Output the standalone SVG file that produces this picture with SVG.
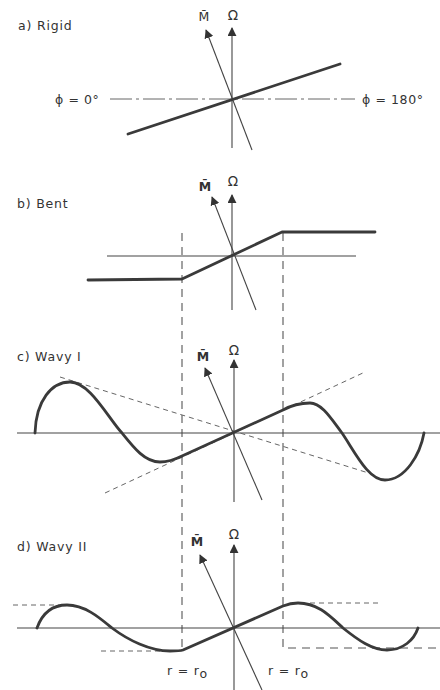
<svg xmlns="http://www.w3.org/2000/svg" width="440" height="690" viewBox="0 0 440 690">
<style>
text{font-family:"DejaVu Sans","Liberation Sans",sans-serif;fill:#333;}
.lab{font-size:12.5px;letter-spacing:0.8px;}
.phi{font-size:12.5px;letter-spacing:0.6px;}
.sym{font-size:13.5px;text-anchor:middle;}
.m{font-size:12.5px;text-anchor:middle;font-weight:bold;}
.thin{stroke:#444;stroke-width:1.1;fill:none;}
.thick{stroke:#3a3a3a;stroke-width:2.8;fill:none;stroke-linejoin:round;stroke-linecap:round;}
.dash{stroke:#555;stroke-width:1.1;fill:none;stroke-dasharray:8 6;}
.sdash{stroke:#666;stroke-width:1;fill:none;stroke-dasharray:5 4;}
.dd{stroke:#666;stroke-width:1;fill:none;stroke-dasharray:22 4 3 4;}
</style>
<defs>
<marker id="ah" viewBox="0 0 10 10" refX="9" refY="5" markerWidth="9" markerHeight="9" markerUnits="userSpaceOnUse" orient="auto">
<path d="M0,0 L10,5 L0,10 z" fill="#333"/>
</marker>
</defs>
<rect width="440" height="690" fill="#fff"/>

<g id="connectors">
<path class="dash" d="M182,233 L182,651"/>
<path class="dash" d="M283,233 L283,648 L440,648"/>
</g>

<g id="panel-a">
<text class="lab" x="18" y="30">a) Rigid</text>
<path class="dd" d="M110,99 L355,99"/>
<text class="phi" x="55" y="104">ϕ = 0°</text>
<text class="phi" x="362" y="104">ϕ = 180°</text>
<line class="thin" x1="232" y1="148" x2="232" y2="28" marker-end="url(#ah)"/>
<line class="thin" x1="252" y1="150" x2="206" y2="30" marker-end="url(#ah)"/>
<text class="sym" x="233" y="20">Ω</text>
<text class="m" x="204" y="21" style="font-weight:normal">M̄</text>
<path class="thick" d="M128,134 L340,64"/>
</g>

<g id="panel-b">
<text class="lab" x="17" y="208">b) Bent</text>
<line class="thin" x1="107" y1="256" x2="356" y2="256"/>
<line class="thin" x1="232" y1="310" x2="232" y2="195" marker-end="url(#ah)"/>
<line class="thin" x1="256" y1="310" x2="212" y2="197" marker-end="url(#ah)"/>
<text class="sym" x="233" y="186">Ω</text>
<text class="m" x="205" y="191">M̄</text>
<path class="thick" d="M88,280 L182,279 L282,232 L375,232"/>
</g>

<g id="panel-c">
<text class="lab" x="17" y="361">c) Wavy I</text>
<line class="thin" x1="17" y1="433" x2="440" y2="433"/>
<path class="sdash" d="M60,377 L375,475"/>
<path class="sdash" d="M105,493 L365,372"/>
<line class="thin" x1="234" y1="502" x2="234" y2="360" marker-end="url(#ah)"/>
<line class="thin" x1="262" y1="500" x2="205" y2="368" marker-end="url(#ah)"/>
<text class="sym" x="234" y="355">Ω</text>
<text class="m" x="203" y="361">M̄</text>
<path class="thick" d="M35,433 C36,400 52,382 70,382 C90,382 108,418 122,433 C134,448 145,462 160,462 C170,462 176,459 182,456 L283,410 C292,405 300,403 310,403 C322,403 332,420 342,433 C355,452 368,480 385,480 C405,480 420,455 424,433"/>
</g>

<g id="panel-d">
<text class="lab" x="17" y="551">d) Wavy II</text>
<line class="thin" x1="17" y1="628" x2="440" y2="628"/>
<path class="sdash" d="M13,605 L62,605"/>
<path class="sdash" d="M310,603 L382,603"/>
<path class="sdash" d="M101,651 L182,651"/>
<line class="thin" x1="234" y1="690" x2="234" y2="545" marker-end="url(#ah)"/>
<line class="thin" x1="262" y1="690" x2="200" y2="555" marker-end="url(#ah)"/>
<text class="sym" x="234" y="539">Ω</text>
<text class="m" x="197" y="546">M̄</text>
<path class="thick" d="M37,628 C42,614 52,605 67,605 C85,605 100,618 112,628 C128,640 150,651 170,651 C176,651 180,651 183,650 L283,606 C288,604 292,603 298,603 C318,603 330,616 343,628 C358,640 372,650 387,650 C403,650 414,640 418,628"/>
<text class="lab" x="167" y="675">r = r<tspan dy="3">o</tspan></text>
<text class="lab" x="268" y="675">r = r<tspan dy="3">o</tspan></text>
</g>
</svg>
